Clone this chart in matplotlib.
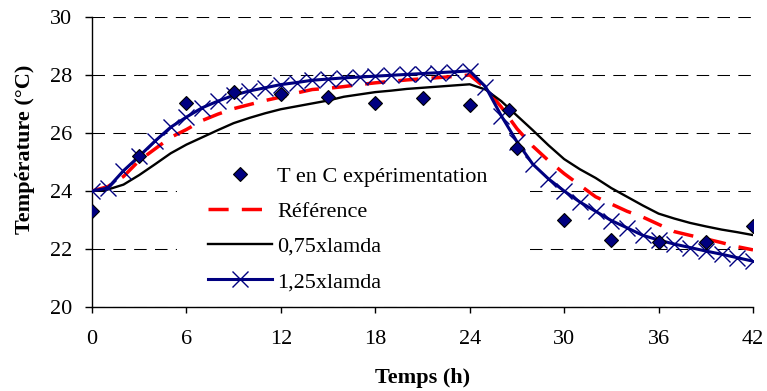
import matplotlib
matplotlib.use("Agg")
import matplotlib.pyplot as plt
from matplotlib.patches import Rectangle

# experimental points
t_exp = [0, 3, 6, 9, 12, 15, 18, 21, 24, 26.5, 27, 30, 33, 36, 39, 42]
T_exp = [23.3, 25.2, 27.05, 27.42, 27.35, 27.25, 27.05, 27.2, 26.95, 26.8,
         25.5, 23.0, 22.3, 22.25, 22.25, 22.8]

# simulations, hourly
t_sim = list(range(0, 43))
T_ref = [24.0, 24.15, 24.5, 25.05, 25.45, 25.85, 26.12, 26.43, 26.65, 26.84,
         26.98, 27.12, 27.24, 27.38, 27.5, 27.54, 27.6, 27.67, 27.73, 27.78,
         27.83, 27.87, 27.91, 27.95, 28.0, 27.55, 26.9, 26.15, 25.55, 25.05,
         24.6, 24.2, 23.8, 23.55, 23.3, 23.1, 22.85, 22.6, 22.47, 22.35,
         22.22, 22.08, 21.97]
T_075 = [24.0, 24.05, 24.22, 24.55, 24.92, 25.3, 25.6, 25.85, 26.1, 26.34,
         26.52, 26.68, 26.82, 26.92, 27.02, 27.12, 27.25, 27.33, 27.41, 27.46,
         27.52, 27.56, 27.6, 27.64, 27.68, 27.5, 27.1, 26.6, 26.1, 25.58,
         25.1, 24.75, 24.45, 24.1, 23.8, 23.5, 23.22, 23.05, 22.9, 22.78,
         22.67, 22.58, 22.48]
T_125 = [24.0, 24.1, 24.7, 25.2, 25.72, 26.2, 26.55, 26.87, 27.1, 27.3,
         27.45, 27.56, 27.67, 27.74, 27.82, 27.86, 27.9, 27.93, 27.96, 27.99,
         28.02, 28.05, 28.08, 28.11, 28.14, 27.6, 26.6, 25.7, 24.93, 24.42,
         24.0, 23.62, 23.3, 22.98, 22.73, 22.47, 22.31, 22.17, 22.05, 21.93,
         21.82, 21.7, 21.58]

x_ticks = [0, 6, 12, 18, 24, 30, 36, 42]
y_ticks = [20, 22, 24, 26, 28, 30]

plt.rcParams["font.family"] = ["Liberation Serif", "DejaVu Serif"]

W, H = 767, 391
fig = plt.figure(figsize=(W / 100, H / 100), dpi=100)
ax = fig.add_axes([92 / W, 1 - 307 / H, (753 - 92) / W, 290 / H])

ax.set_xlim(0, 42)
ax.set_ylim(20, 30)
ax.set_xticks(x_ticks)
ax.set_yticks(y_ticks)
ax.set_axisbelow(True)
ax.grid(axis="y", color="black", linewidth=0.75, linestyle=(0, (12, 8)))
ax.xaxis.grid(False)

for s in ("top", "right"):
    ax.spines[s].set_visible(False)
for s in ("left", "bottom"):
    ax.spines[s].set_linewidth(1.0)

ax.tick_params(axis="both", direction="out", labelsize=16, width=1.0)
ax.tick_params(axis="y", length=5, pad=9)
ax.tick_params(axis="x", length=4.5, pad=12)

# white area behind the legend (hides grid)
ax.add_patch(Rectangle((177 / W, 1 - 294 / H), (522 - 177) / W, (294 - 160) / H,
                       transform=fig.transFigure, facecolor="white",
                       edgecolor="none", zorder=1, clip_on=False))

ax.plot(t_exp, T_exp, linestyle="none", marker="D", markersize=7,
        markerfacecolor="#000080", markeredgecolor="black",
        markeredgewidth=0.8, zorder=5, label="T en C expérimentation")
ax.plot(t_sim, T_ref, color="#ff0000", linewidth=2.5,
        linestyle=(0, (5.8, 3.8)), zorder=3, label="Référence")
ax.plot(t_sim, T_075, color="black", linewidth=1.7, zorder=3,
        label="0,75xlamda")
ax.plot(t_sim, T_125, color="#000080", linewidth=2.2, marker="x",
        markersize=11, markeredgewidth=1.0, zorder=4, label="1,25xlamda")

ax.legend(loc="upper left", bbox_to_anchor=(208 / W, 1 - 166 / H),
          bbox_transform=fig.transFigure, frameon=False, fontsize=16,
          borderpad=0, borderaxespad=0, handlelength=2.9,
          handletextpad=0.22, labelspacing=0.66, numpoints=1)

ax.set_xlabel("Temps (h)", fontsize=16, fontweight="bold")
ax.set_ylabel("Température (°C)", fontsize=16, fontweight="bold")
ax.xaxis.set_label_coords(0.5, (307 - 368) / 290)
ax.xaxis.label.set_va("top")
ax.yaxis.set_label_coords((35 - 92) / 661, (307 - 149) / 290)

fig.savefig("out.png", dpi=100)
